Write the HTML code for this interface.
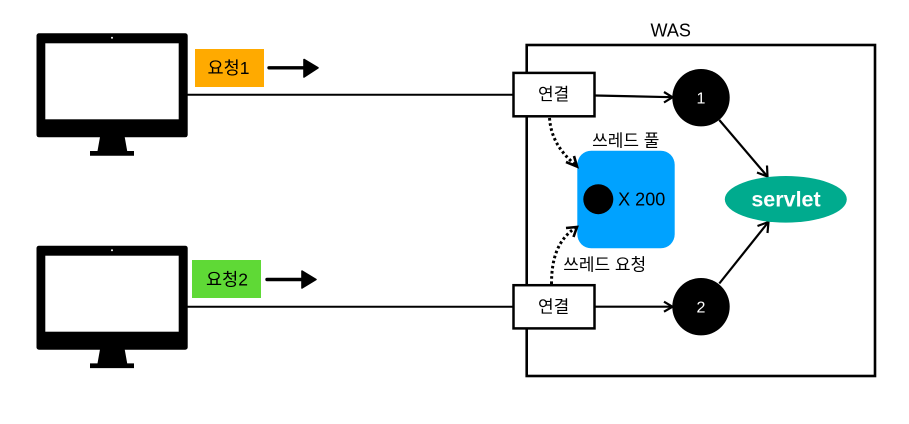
<!DOCTYPE html>
<html><head><meta charset="utf-8"><style>
html,body{margin:0;padding:0;background:#fff}
svg{display:block}
text{font-family:"Liberation Sans","Noto Sans CJK KR",sans-serif;text-anchor:middle}
</style></head><body>
<svg width="909" height="424" viewBox="0 0 909 424" xmlns="http://www.w3.org/2000/svg">
<rect width="909" height="424" fill="#fff"/>
<rect x="526.7" y="45" width="348.3" height="331" fill="none" stroke="#000" stroke-width="2.6"/>
<line x1="187" y1="94.7" x2="513" y2="94.7" stroke="#000" stroke-width="2"/>
<line x1="187" y1="306.7" x2="513" y2="306.7" stroke="#000" stroke-width="2"/>
<g>
<rect x="36.5" y="33.3" width="151.2" height="104" rx="2.5" fill="#000"/>
<rect x="45.3" y="43.3" width="133.4" height="76" fill="#fff"/>
<circle cx="112" cy="37.8" r="1" fill="#fff"/>
<path d="M100 137H124.7L127.2 151H134V155.7H90V151H97.5Z" fill="#000"/>
</g>
<g transform="translate(0 212.4)">
<rect x="36.5" y="33.3" width="151.2" height="104" rx="2.5" fill="#000"/>
<rect x="45.3" y="43.3" width="133.4" height="76" fill="#fff"/>
<circle cx="112" cy="37.8" r="1" fill="#fff"/>
<path d="M100 137H124.7L127.2 151H134V155.7H90V151H97.5Z" fill="#000"/>
</g>
<rect x="195" y="49" width="69" height="38" fill="#ffaa00"/>
<text x="228.5" y="74" font-size="17.5">요청1</text>
<rect x="192" y="260" width="69" height="38" fill="#5fd936"/>
<text x="227" y="285.5" font-size="17.5">요청2</text>
<line x1="269" y1="67.8" x2="306" y2="67.8" stroke="#000" stroke-width="3.4" stroke-linecap="round"/>
<path d="M304 59.5L318 67.8L304 77Z" fill="#000" stroke="#000" stroke-width="1.6" stroke-linejoin="round"/>
<line x1="267" y1="279.5" x2="304" y2="279.5" stroke="#000" stroke-width="3.4" stroke-linecap="round"/>
<path d="M302 271L316 279.5L302 288Z" fill="#000" stroke="#000" stroke-width="1.6" stroke-linejoin="round"/>
<rect x="577.3" y="150.7" width="97.4" height="97.6" rx="14" fill="#00a2ff"/>
<circle cx="598.3" cy="199.2" r="15" fill="#000"/>
<text x="641.7" y="205.5" font-size="18">X 200</text>
<text x="625.8" y="146.5" font-size="17">쓰레드 풀</text>
<text x="604.7" y="270.5" font-size="17">쓰레드 요청</text>
<text x="670.7" y="36.5" font-size="18">WAS</text>
<rect x="513.5" y="72.9" width="81" height="43.4" fill="#fff" stroke="#000" stroke-width="2.5"/>
<text x="553.7" y="100" font-size="17">연결</text>
<rect x="513.5" y="285.2" width="81" height="43.2" fill="#fff" stroke="#000" stroke-width="2.5"/>
<text x="553.7" y="312.5" font-size="17">연결</text>
<g fill="none" stroke="#000" stroke-width="2.2">
<path d="M595 95.5L672 97.2"/><path d="M664 92L672.5 97.2L664 102.5"/>
<path d="M595 306.7H672"/><path d="M664 301.7L672.5 306.7L664 311.7"/>
<path d="M719.3 120L767 176"/><path d="M757 172.5L767.5 176.5L767 165.5"/>
<path d="M719.3 283.5L768 222.5"/><path d="M757.5 226L768.5 222L767.5 233"/>
<path d="M549.5 118C551 137 559 151 576 165.5" stroke-width="3" stroke-dasharray="2.6 2.6"/>
<path d="M566 162L577 166.5L574 156" stroke-width="2.6"/>
<path d="M551.5 284C551.5 258 558 240 575 228" stroke-width="3" stroke-dasharray="2.6 2.6"/>
<path d="M566 228L577 227L573.5 237" stroke-width="2.6"/>
</g>
<circle cx="701" cy="97.7" r="28.7" fill="#000"/>
<text x="701" y="103.5" font-size="16" fill="#fff">1</text>
<circle cx="701" cy="306.7" r="28.7" fill="#000"/>
<text x="701" y="312.5" font-size="16" fill="#fff">2</text>
<ellipse cx="785.8" cy="199.3" rx="61" ry="23.3" fill="#00ab8e"/>
<text x="786" y="206.5" font-size="21.5" font-weight="700" fill="#fff">servlet</text>
</svg>
</body></html>
